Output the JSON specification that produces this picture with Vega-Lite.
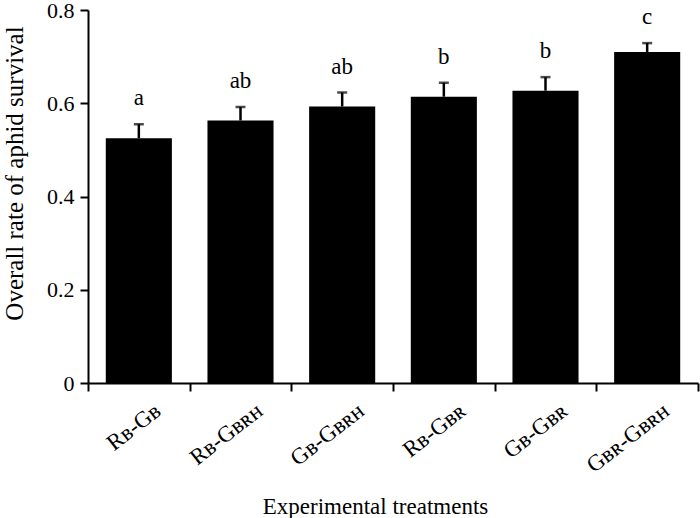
{
  "$schema": "https://vega.github.io/schema/vega-lite/v6.json",
  "width": 610,
  "height": 373,
  "autosize": "none",
  "padding": {"left": 88, "top": 10, "right": 2, "bottom": 135},
  "background": "white",
  "data": {"values": [
    {"treatment": "Rʙ-Gʙ", "mean": 0.525, "upper": 0.555, "letter": "a"},
    {"treatment": "Rʙ-Gʙʀʜ", "mean": 0.563, "upper": 0.592, "letter": "ab"},
    {"treatment": "Gʙ-Gʙʀʜ", "mean": 0.593, "upper": 0.623, "letter": "ab"},
    {"treatment": "Rʙ-Gʙʀ", "mean": 0.614, "upper": 0.644, "letter": "b"},
    {"treatment": "Gʙ-Gʙʀ", "mean": 0.627, "upper": 0.656, "letter": "b"},
    {"treatment": "Gʙʀ-Gʙʀʜ", "mean": 0.710, "upper": 0.729, "letter": "c"}
  ]},
  "encoding": {
    "x": {
      "field": "treatment", "type": "nominal", "sort": null,
      "scale": {"paddingInner": 0, "paddingOuter": 0},
      "axis": {
        "title": "Experimental treatments",
        "labelAngle": -38,
        "labelOffset": 12,
        "tickBand": "extent",
        "tickSize": 8,
        "labelPadding": 8,
        "labelFontSize": 23,
        "titleFontSize": 23,
        "titleX": 287,
        "titleY": 130,
        "titleAlign": "center",
        "titleBaseline": "alphabetic"
      }
    }
  },
  "layer": [
    {
      "mark": {"type": "bar", "color": "black", "width": {"band": 0.65}},
      "encoding": {
        "y": {
          "field": "mean", "type": "quantitative",
          "scale": {"domain": [0, 0.8], "nice": false},
          "axis": {
            "title": "Overall  rate of aphid survival",
            "values": [0, 0.2, 0.4, 0.6, 0.8],
            "labelExpr": "datum.value == 0 ? '0' : format(datum.value, '.1f')",
            "grid": false,
            "tickSize": 8,
            "labelPadding": 6,
            "labelFontSize": 22,
            "titleFontSize": 25,
            "titleX": -74,
            "titleY": 163,
            "titleAlign": "center",
            "titleBaseline": "middle"
          }
        }
      }
    },
    {
      "mark": {"type": "rule", "color": "black", "strokeWidth": 2.5},
      "encoding": {
        "y": {"field": "mean", "type": "quantitative"},
        "y2": {"field": "upper"}
      }
    },
    {
      "mark": {"type": "tick", "color": "black", "thickness": 2.5, "size": 10},
      "encoding": {
        "y": {"field": "upper", "type": "quantitative"}
      }
    },
    {
      "mark": {"type": "text", "font": "Liberation Serif", "fontSize": 23, "dy": -19, "baseline": "alphabetic", "color": "black"},
      "encoding": {
        "y": {"field": "upper", "type": "quantitative"},
        "text": {"field": "letter"}
      }
    }
  ],
  "config": {
    "view": {"stroke": null},
    "axis": {
      "labelFont": "Liberation Serif",
      "titleFont": "Liberation Serif",
      "titleFontWeight": "normal",
      "labelColor": "black",
      "titleColor": "black",
      "domainColor": "black",
      "tickColor": "black",
      "domainWidth": 2,
      "tickWidth": 2
    }
  }
}
